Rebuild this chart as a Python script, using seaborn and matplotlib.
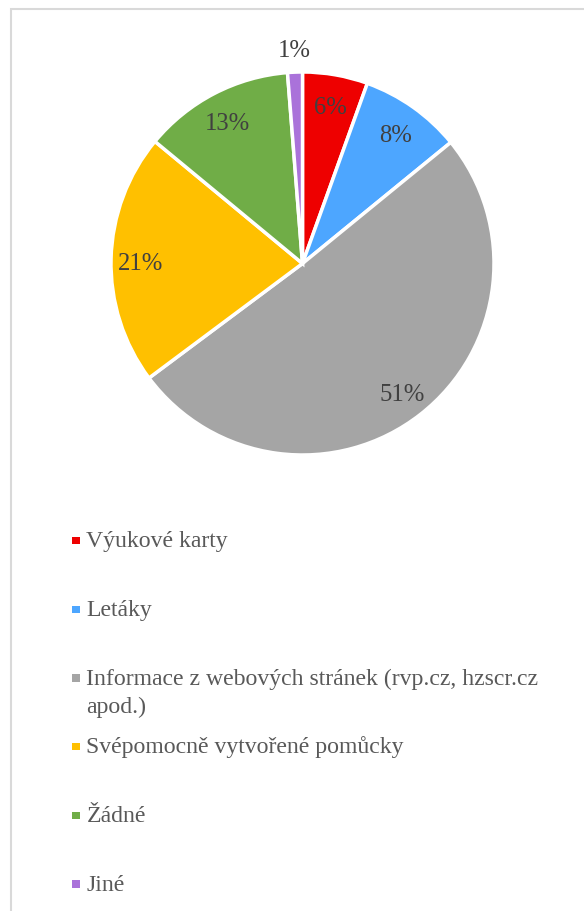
import matplotlib
matplotlib.use("Agg")
import matplotlib.pyplot as plt
from matplotlib.patches import Rectangle
import numpy as np
import seaborn as sns

categories = ["Výukové karty", "Letáky",
              "Informace z webových stránek (rvp.cz, hzscr.cz\napod.)",
              "Svépomocně vytvořené pomůcky", "Žádné", "Jiné"]
values = [5.5, 8.6, 50.7, 21.2, 12.75, 1.25]
pct_labels = ["6%", "8%", "51%", "21%", "13%", "1%"]
colors = ["#EE0000", "#4DA6FF", "#A5A5A5", "#FFC000", "#70AD47", "#AA72DA"]

sns.set_theme(style="white")
plt.rcParams["font.family"] = ["Liberation Serif", "DejaVu Serif"]

W, H = 584, 911
fig = plt.figure(figsize=(W / 100, H / 100), dpi=100)
fig.patch.set_facecolor("white")

# pie axes: center (302.5,263.5), radius ~191.5 px
cx, cy, r = 302.5, 263.5, 191.5
ax = fig.add_axes([(cx - r) / W, 1 - (cy + r) / H, 2 * r / W, 2 * r / H])
wedges, _ = ax.pie(values, colors=colors, startangle=90, counterclock=False,
                   wedgeprops=dict(edgecolor="white", linewidth=2.5))
ax.set_aspect("equal")
ax.set_xlim(-1, 1)
ax.set_ylim(-1, 1)
ax.axis("off")

for w, lab in zip(wedges, pct_labels):
    ang = np.deg2rad((w.theta1 + w.theta2) / 2)
    d = 1.13 if lab == "1%" else 0.845
    ax.annotate(lab, (d * np.cos(ang), d * np.sin(ang)), xytext=(0, -3),
                textcoords="offset points", ha="center", va="center",
                fontsize=17.7, color="#404040", annotation_clip=False)

# border
fig.patches.append(Rectangle((11 / W, -0.1), 1.2, 1 - 9 / H + 0.1,
                             transform=fig.transFigure, fill=False,
                             edgecolor="#D9D9D9", linewidth=1.5))

# legend
y0, dy = 540.6, 68.7
for i, (lab, col) in enumerate(zip(categories, colors)):
    y = y0 + i * dy
    fig.patches.append(Rectangle((72 / W, 1 - (y + 3.7) / H), 7.5 / W, 7.5 / H,
                                 transform=fig.transFigure, facecolor=col,
                                 edgecolor="none"))
    for k, line in enumerate(lab.split("\n")):
        fig.text(86.5 / W, 1 - (y + 6.5 + k * 28) / H, line, ha="left",
                 va="baseline", fontsize=17.1, color="#595959")

fig.savefig("out.png", dpi=100, facecolor="white")
